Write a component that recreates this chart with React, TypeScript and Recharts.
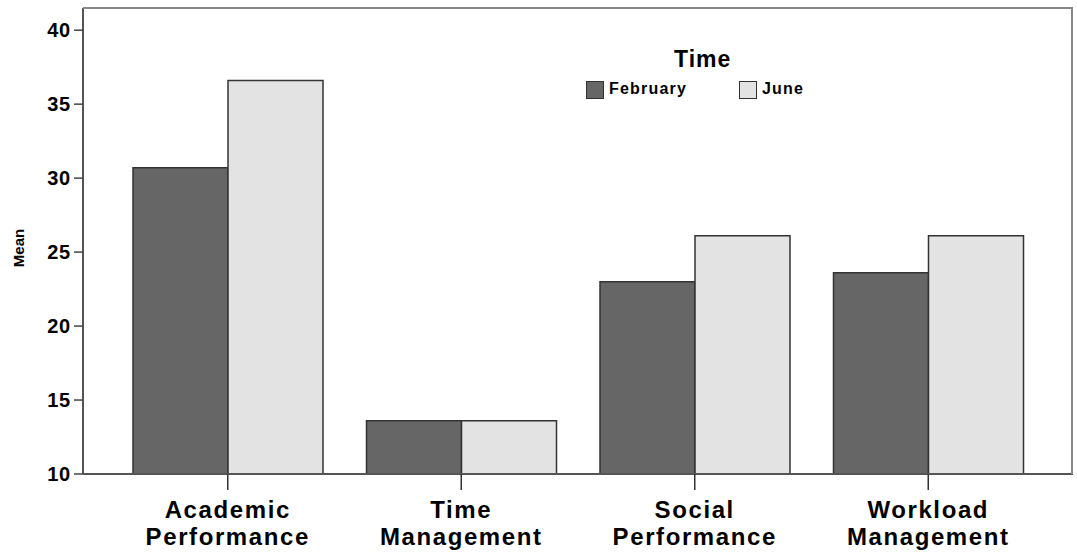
import React from "react";
import { BarChart, Bar, XAxis, YAxis } from "recharts";

const categories = ["Academic Performance", "Time Management", "Social Performance", "Workload Management"];
const february = [30.7, 13.6, 23.0, 23.6];
const june = [36.6, 13.6, 26.1, 26.1];
const yTicks = [10, 15, 20, 25, 30, 35, 40];

const data = categories.map((name, i) => ({ name, February: february[i], June: june[i] }));

const FONT = "'Liberation Sans', Arial, sans-serif";

function XTick(props: any) {
  const { x, y, payload } = props;
  const words = String(payload.value).split(" ");
  return (
    <g transform={`translate(${x},${y})`}>
      {words.map((w: string, i: number) => (
        <text
          key={i}
          x={0}
          y={26 + i * 27}
          textAnchor="middle"
          fontFamily={FONT}
          fontWeight="bold"
          fontSize={24}
          letterSpacing={1.6}
          fill="#000"
        >
          {w}
        </text>
      ))}
    </g>
  );
}

function YTick(props: any) {
  const { x, y, payload } = props;
  return (
    <text x={x - 1} y={y + 7} textAnchor="end" fontFamily={FONT} fontWeight="bold" fontSize={20} letterSpacing={0.8} fill="#000">
      {payload.value}
    </text>
  );
}

function MeanLabel(props: any) {
  const { viewBox } = props;
  const cy = viewBox.y + viewBox.height / 2 + 7;
  return (
    <text
      x={24}
      y={cy}
      transform={`rotate(-90, 24, ${cy})`}
      textAnchor="middle"
      fontFamily={FONT}
      fontWeight="bold"
      fontSize={15}
      fill="#000"
    >
      Mean
    </text>
  );
}

export default function App() {
  return (
    <div style={{ position: "absolute", left: 0, top: 0, width: 1077, height: 553, background: "#fff" }}>
      <BarChart
        width={1077}
        height={553}
        data={data}
        margin={{ top: 8, right: 4, left: 0, bottom: 0 }}
        barCategoryGap={22}
        barGap={0}
      >
        <XAxis
          dataKey="name"
          height={79}
          interval={0}
          padding={{ left: 28, right: 28 }}
          tick={<XTick />}
          tickSize={16}
          tickLine={{ stroke: "#333", strokeWidth: 1.5 }}
          axisLine={{ stroke: "#555", strokeWidth: 2 }}
        />
        <YAxis
          domain={[10, 41.5]}
          ticks={yTicks}
          allowDataOverflow
          width={83}
          tick={<YTick />}
          tickSize={9}
          tickLine={{ stroke: "#444", strokeWidth: 1.5 }}
          axisLine={{ stroke: "#555", strokeWidth: 2 }}
          label={<MeanLabel />}
        />
        <Bar dataKey="February" fill="#666666" stroke="#333" strokeWidth={1.5} isAnimationActive={false} />
        <Bar dataKey="June" fill="#e3e3e3" stroke="#333" strokeWidth={1.5} isAnimationActive={false} />
      </BarChart>
      <div style={{ position: "absolute", left: 0, top: 0, width: 1077, height: 553, pointerEvents: "none", fontFamily: FONT, fontWeight: "bold" }}>
        <div style={{ position: "absolute", left: 83, top: 7, width: 990, height: 467, borderTop: "2px solid #888", borderRight: "2px solid #888", boxSizing: "border-box" }} />
        <div style={{ position: "absolute", left: 674, top: 46, fontSize: 23, letterSpacing: 1 }}>Time</div>
        <div style={{ position: "absolute", left: 586, top: 81, width: 18, height: 18, background: "#666666", border: "1px solid #333", boxSizing: "border-box" }} />
        <div style={{ position: "absolute", left: 609, top: 80, fontSize: 16, letterSpacing: 1.2 }}>February</div>
        <div style={{ position: "absolute", left: 739, top: 81, width: 18, height: 18, background: "#e3e3e3", border: "1px solid #333", boxSizing: "border-box" }} />
        <div style={{ position: "absolute", left: 762, top: 80, fontSize: 16, letterSpacing: 1.2 }}>June</div>
      </div>
    </div>
  );
}
